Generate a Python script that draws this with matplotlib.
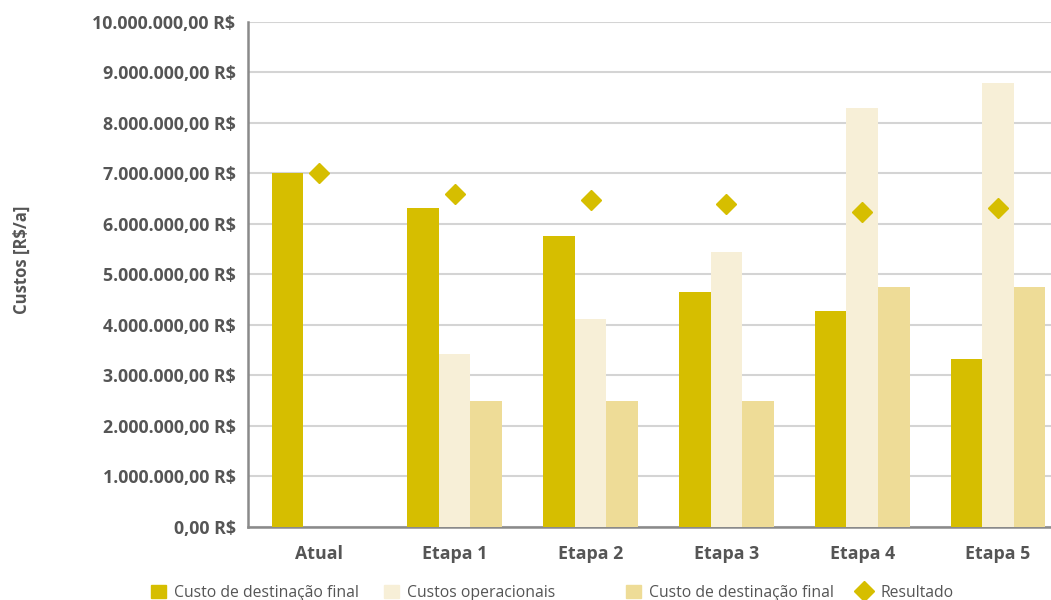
import numpy as np
import matplotlib.pyplot as plt
from matplotlib.ticker import FuncFormatter
from matplotlib.lines import Line2D
from matplotlib.patches import Patch

plt.rcParams['font.family'] = ['Open Sans', 'DejaVu Sans']

# data
etapas = ['Atual', 'Etapa 1', 'Etapa 2', 'Etapa 3', 'Etapa 4', 'Etapa 5']
destinacao = [7.00e6, 6.32e6, 5.76e6, 4.65e6, 4.28e6, 3.33e6]
operacionais = [0, 3.41e6, 4.12e6, 5.45e6, 8.30e6, 8.79e6]
destinacao2 = [0, 2.48e6, 2.48e6, 2.48e6, 4.75e6, 4.75e6]
resultado = [7.01e6, 6.59e6, 6.48e6, 6.40e6, 6.24e6, 6.32e6]
legenda = ['Custo de destinação final', 'Custos operacionais',
           'Custo de destinação final', 'Resultado']

c1 = '#D6BE00'
c2 = '#F7EFD7'
c3 = '#EEDC97'
txt = '#555555'

def brl(v, pos):
    s = f'{v:,.2f}'.replace(',', 'X').replace('.', ',').replace('X', '.')
    return s + ' R$'

fig = plt.figure(figsize=(10.51, 6), dpi=100)
ax = fig.add_axes([248 / 1051, 73.5 / 600, 818 / 1051, 504.5 / 600])

x = np.arange(len(etapas))
w = 0.232
ax.bar(x - w, destinacao, w, color=c1, zorder=3)
ax.bar(x, operacionais, w, color=c2, zorder=3)
ax.bar(x + w, destinacao2, w, color=c3, zorder=3)
ax.plot(x, resultado, linestyle='none', marker='D', ms=10, color=c1, zorder=4)

ax.set_xlim(-0.522, 5.5)
ax.set_ylim(0, 10e6)
ax.set_yticks(np.arange(0, 10.5e6, 1e6))
ax.yaxis.set_major_formatter(FuncFormatter(brl))
ax.set_xticks(x)
ax.set_xticklabels(etapas)
ax.grid(axis='y', color='#d4d4d4', linewidth=1.5, zorder=0)
ax.tick_params(length=0, labelsize=12.8, labelcolor=txt, pad=9)
ax.tick_params(axis='x', pad=13)
for t in ax.get_xticklabels() + ax.get_yticklabels():
    t.set_fontweight('bold')
for s in ['top', 'right']:
    ax.spines[s].set_visible(False)
for s in ['left', 'bottom']:
    ax.spines[s].set_color('#8a8a8a')
    ax.spines[s].set_linewidth(1.8)

fig.text(22 / 1051, 1 - 260 / 600, 'Custos [R$/a]', rotation=90, ha='center', va='center',
         fontsize=12, fontweight='bold', color=txt)

# legend items placed one by one, as in the reference spacing
handles = [
    Patch(color=c1), Patch(color=c2), Patch(color=c3),
    Line2D([], [], linestyle='none', marker='D', ms=10, color=c1),
]
leg_x = [146, 379, 621, 852]
for h, lab, lx in zip(handles, legenda, leg_x):
    leg = fig.legend(handles=[h], labels=[lab], loc='center left',
                     bbox_to_anchor=(lx / 1051, 1 - 593 / 600), frameon=False,
                     fontsize=11.3, labelcolor=txt, handlelength=0.95, handleheight=0.95,
                     handletextpad=0.55, borderaxespad=0, borderpad=0.3)

fig.savefig('out.png', dpi=100)
